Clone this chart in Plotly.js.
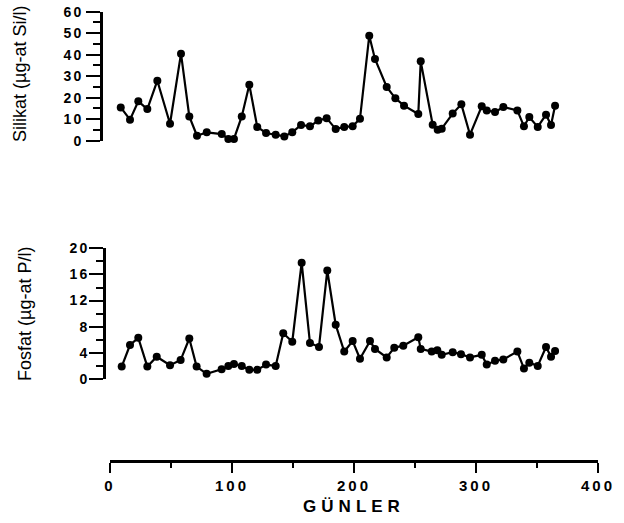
<!DOCTYPE html>
<html>
<head>
<meta charset="utf-8">
<script src="https://cdn.plot.ly/plotly-3.0.1.min.js"></script>
<style>
html,body{margin:0;padding:0;background:#fff;}
#chart{width:624px;height:523px;}
#chart .xtick text { letter-spacing: 3px; }
#chart .ytick text, #chart .y2tick text { letter-spacing: 2px; }
#chart .g-xtitle text { letter-spacing: 5px; }
</style>
</head>
<body>
<div id="chart"></div>
<script>
// Silikat (top panel)
const daysSilikat = [8.8,16.4,23.2,30.6,38.8,49.2,58.2,65,71.3,79.3,91.6,97,101.6,108,114.2,120.7,127.9,135.8,142.9,149.4,156.6,163.9,170.7,177.6,185,192,198.9,204.9,212.5,217.2,226.8,233.9,241,252.7,254.7,264.5,268.6,271.9,280.9,288,295.1,304.7,308.8,315.6,322.4,333.9,339.3,343.7,350.6,357.4,361.5,364.8];
const silikat = [15.5,9.8,18.3,14.7,27.9,7.9,40.5,11.3,2.3,3.9,3.1,0.8,0.8,11.3,26,6.4,3.6,2.8,2.0,3.9,7.3,6.7,9.4,10.5,5.4,6.4,6.7,10.2,48.8,38,25,19.7,16.3,12.4,36.9,7.4,5.1,5.6,12.6,16.9,2.8,16,14.1,13.3,15.7,14.1,6.7,11,6.4,12.1,7.3,16.3];

// Fosfat (bottom panel)
const daysFosfat = [9.6,16.4,23.2,30.6,38.3,49.2,57.9,65,71,79.2,91.5,97,101.6,108,114.2,120.7,127.9,135.8,142,149.4,157.1,163.9,171.3,178.1,185,192,198.9,204.9,213.1,217.2,226.8,233,240.4,252.7,254.7,263.7,268.3,271.9,280.9,287.7,295.1,304.7,308.8,315.6,322.4,333.9,339.3,343.7,350.6,357.4,361.5,364.8];
const fosfat = [1.9,5.2,6.3,1.9,3.4,2.1,2.9,6.2,1.9,0.8,1.5,2.0,2.3,2.0,1.4,1.4,2.2,2.0,7.0,5.7,17.8,5.5,4.9,16.6,8.3,4.2,5.8,3.1,5.8,4.6,3.3,4.8,5.1,6.4,4.6,4.2,4.4,3.7,4.1,3.8,3.3,3.7,2.2,2.8,3.0,4.2,1.6,2.5,2.0,4.9,3.4,4.3];

// Axis ticks and labels
const xTicks = [0,100,200,300,400];
const xTickLabels = ['0','100','200','300','400'];
const ySiTicks = [0,10,20,30,40,50,60];
const ySiTickLabels = ['0','10','20','30','40','50','60'];
const yPTicks = [0,4,8,12,16,20];
const yPTickLabels = ['0','4','8','12','16','20'];
const xTitle = 'GÜNLER';
const ySiTitle = 'Silikat (µg-at Si/l)';
const yPTitle = 'Fosfat (µg-at P/l)';

const W = 624, H = 523;
const px = v => v / W;
const py = v => (H - v) / H;

const FONT = 'Liberation Sans, Arial, sans-serif';
const xTickFont = {family: FONT, size: 15, color: '#000', weight: 'bold'};
const yTickFont = {family: FONT, size: 14, color: '#000', weight: 'bold'};
const lineStyle = {color: '#000', width: 2.2};
const markerStyle = {color: '#000', size: 8, symbol: 'circle'};

const traces = [
  {x: daysSilikat, y: silikat, xaxis: 'x', yaxis: 'y', mode: 'lines+markers', line: lineStyle, marker: markerStyle, cliponaxis: false, showlegend: false},
  {x: daysFosfat, y: fosfat, xaxis: 'x', yaxis: 'y2', mode: 'lines+markers', line: lineStyle, marker: markerStyle, cliponaxis: false, showlegend: false}
];

const yCommon = {
  anchor: 'free', side: 'left', showgrid: false, zeroline: false,
  showline: true, linecolor: '#000', linewidth: 2.5,
  ticks: 'outside', ticklen: 14, tickwidth: 2, tickcolor: '#000',
  tickfont: yTickFont, tickmode: 'array', fixedrange: true
};

const layout = {
  width: W, height: H,
  margin: {l: 0, r: 0, t: 0, b: 0},
  paper_bgcolor: '#fff', plot_bgcolor: 'rgba(0,0,0,0)',
  showlegend: false,
  xaxis: {
    domain: [px(110), px(598)], range: [0, 400],
    anchor: 'free', position: py(461),
    showgrid: false, zeroline: false,
    showline: true, linecolor: '#000', linewidth: 2.5,
    ticks: 'outside', ticklen: 10, tickwidth: 2, tickcolor: '#000',
    tickmode: 'array', tickvals: xTicks, ticktext: xTickLabels, tickfont: xTickFont,
    minor: {dtick: 50, tick0: 0, ticks: 'outside', ticklen: 5, tickwidth: 2, tickcolor: '#000', showgrid: false},
    title: {text: xTitle, font: {family: FONT, size: 17, color: '#000', weight: 'bold'}, standoff: 7},
    automargin: false
  },
  yaxis: Object.assign({}, yCommon, {
    domain: [py(140.7), py(11.7)], range: [0, 60], position: px(101),
    tickvals: ySiTicks, ticktext: ySiTickLabels,
    minor: {dtick: 10, tick0: 5, ticks: 'outside', ticklen: 7, tickwidth: 2, tickcolor: '#000', showgrid: false}
  }),
  yaxis2: Object.assign({}, yCommon, {
    domain: [py(379), py(248.3)], range: [0, 20], position: px(104),
    tickvals: yPTicks, ticktext: yPTickLabels, ticklabelstandoff: -3,
    minor: {dtick: 4, tick0: 2, ticks: 'outside', ticklen: 7, tickwidth: 2, tickcolor: '#000', showgrid: false}
  }),
  annotations: [
    {text: ySiTitle, xref: 'paper', yref: 'paper', x: px(20), y: py(74), textangle: -90, showarrow: false,
     xanchor: 'center', yanchor: 'middle', font: {family: FONT, size: 18, color: '#000'}},
    {text: yPTitle, xref: 'paper', yref: 'paper', x: px(25), y: py(314), textangle: -90, showarrow: false,
     xanchor: 'center', yanchor: 'middle', font: {family: FONT, size: 18, color: '#000'}}
  ]
};

Plotly.newPlot('chart', traces, layout, {staticPlot: true, displayModeBar: false});
</script>
</body>
</html>
